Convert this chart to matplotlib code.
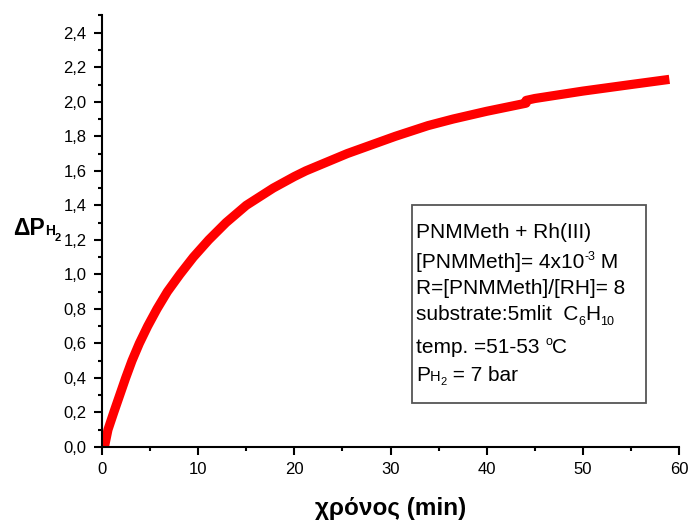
import matplotlib
matplotlib.use('Agg')
import matplotlib.pyplot as plt
from matplotlib.patches import Rectangle
from matplotlib.ticker import MultipleLocator, FuncFormatter

plt.rcParams['font.family'] = ['Liberation Sans', 'DejaVu Sans']

# hydrogen uptake vs time
time_min = [0.25, 0.62, 1.22, 1.84, 2.46, 3.12, 3.88, 4.75, 5.72, 6.8, 8.1, 9.5,
            11.1, 12.9, 15.0, 17.8, 20.0, 21.2, 25.5, 30.5, 33.9, 36.5, 40.0,
            44.1, 44.1, 45.0, 50.0, 55.0, 59.0]
delta_p = [0.0, 0.1, 0.2, 0.3, 0.4, 0.5, 0.6, 0.7, 0.8, 0.9, 1.0, 1.1,
           1.2, 1.3, 1.4, 1.5, 1.567, 1.6, 1.7, 1.8, 1.862, 1.9, 1.945,
           1.992, 2.008, 2.019, 2.062, 2.10, 2.13]

W, H = 691, 521
fig = plt.figure(figsize=(W / 100, H / 100), dpi=100)
ax = fig.add_axes([102 / W, 1 - 447 / H, (679 - 102) / W, (447 - 15.5) / H])

ax.plot(time_min, delta_p, color='#ff0000', lw=6.6, solid_capstyle='butt', solid_joinstyle='round')

ax.set_xlim(0, 60)
ax.set_ylim(0, 2.5)
for s in ['top', 'right']:
    ax.spines[s].set_visible(False)
for s in ['left', 'bottom']:
    ax.spines[s].set_linewidth(1.5)

ax.xaxis.set_major_locator(MultipleLocator(10))
ax.xaxis.set_minor_locator(MultipleLocator(5))
ax.yaxis.set_major_locator(MultipleLocator(0.2))
ax.yaxis.set_minor_locator(MultipleLocator(0.1))
ax.yaxis.set_major_formatter(FuncFormatter(lambda v, p: f'{v:.1f}'.replace('.', ',')))
ax.tick_params(which='major', length=6, width=1.5, labelsize=12, direction='out')
ax.tick_params(which='minor', length=3.2, width=1.5, direction='out')
ax.tick_params(axis='x', pad=5)
ax.tick_params(axis='y', pad=5)

ax.set_xlabel('χρόνος (min)', fontsize=17.5, fontweight='bold', labelpad=14)

renderer = fig.canvas.get_renderer()


def rich_text(x, y, parts, weight='normal'):
    # draw consecutive text pieces (size, baseline shift in px) in figure pixels
    for txt, size, dy in parts:
        t = fig.text(x / W, 1 - (y - dy) / H, txt, fontsize=size, fontweight=weight,
                     va='baseline', ha='left')
        bb = t.get_window_extent(renderer)
        x += bb.width


# y axis label
rich_text(13, 235, [('ΔP', 16.5, 0), ('H', 10, 0), ('2', 8, -6)], weight='bold')

# annotation box
fig.patches.append(Rectangle((411.5 / W, 1 - 402.5 / H), (646 - 411.5) / W, (402.5 - 205) / H,
                             transform=fig.transFigure, fill=False, edgecolor='#555555', lw=1.3))
bs = 15
rich_text(416, 238, [('PNMMeth + Rh(III)', bs, 0)])
rich_text(416, 268, [('[PNMMeth]= 4x10', bs, 0), ('-3', 9, 8), (' M', bs, 0)])
rich_text(416, 294, [('R=[PNMMeth]/[RH]= 8', bs, 0)])
rich_text(416, 320, [('substrate:5mlit  C', bs, 0), ('6', 9, -5), ('H', bs, 0), ('10', 9, -5)])
rich_text(416, 353, [('temp. =51-53 ', bs, 0), ('o', 9, 8), ('C', bs, 0)])
rich_text(416, 381, [('P', bs, 0), ('H', 10.5, 0), ('2', 8, -4), (' = 7 bar', bs, 0)])

fig.savefig('out.png', dpi=100)
